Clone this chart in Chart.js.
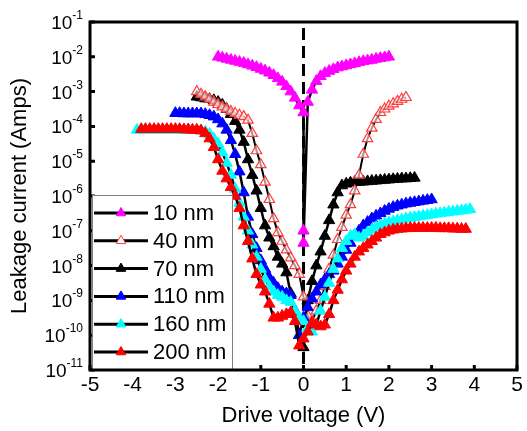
<!DOCTYPE html>
<html>
<head>
<meta charset="utf-8">
<script src="https://cdn.jsdelivr.net/npm/chart.js@4.4.1/dist/chart.umd.min.js"></script>
<style>
	html, body { margin: 0; padding: 0; background: #fff; }
</style>
</head>
<body>
<canvas id="chart" width="527" height="431"></canvas>
<script>
// sweep grid shared by the 40..200 nm curves (V)
const voltage = [
	-3.9, -3.8, -3.7, -3.6, -3.5, -3.4, -3.3, -3.2, -3.1, -3.0,
	-2.9, -2.8, -2.7, -2.6, -2.5, -2.4, -2.3, -2.2, -2.1, -2.0,
	-1.9, -1.8, -1.7, -1.6, -1.5, -1.4, -1.3, -1.2, -1.1, -1.0,
	-0.9, -0.8, -0.7, -0.6, -0.5, -0.4, -0.3, -0.2, -0.1, 0.0,
	0.1, 0.2, 0.3, 0.4, 0.5, 0.6, 0.7, 0.8, 0.9, 1.0,
	1.1, 1.2, 1.3, 1.4, 1.5, 1.6, 1.7, 1.8, 1.9, 2.0,
	2.1, 2.2, 2.3, 2.4, 2.5, 2.6, 2.7, 2.8, 2.9, 3.0,
	3.1, 3.2, 3.3, 3.4, 3.5, 3.6, 3.7, 3.8, 3.9
];

// leakage current, log10(A)
const leak40nm = [
	null, null, null, null, null, null, null, null, null, null,
	null, null, null, null, -3.00, -3.08, -3.15, -3.22, -3.30, -3.37,
	-3.44, -3.50, -3.57, -3.63, -3.68, -3.72, -3.82, -4.20, -4.70, -5.10,
	-5.60, -6.10, -6.65, -7.05, -7.30, -7.55, -7.78, -8.00, -8.25, -8.90,
	-9.45, -9.60, -9.30, -9.00, -8.60, -8.10, -7.70, -7.25, -6.90, -6.55,
	-6.25, -5.85, -5.40, -4.80, -4.35, -4.05, -3.80, -3.60, -3.50, -3.42,
	-3.35, -3.28, -3.22, -3.17, null, null, null, null, null, null,
	null, null, null, null, null, null, null, null, null
];
const leak70nm = [
	null, null, null, null, null, null, null, null, null, null,
	null, null, null, null, -3.15, -3.17, -3.20, -3.22, -3.25, -3.30,
	-3.38, -3.50, -3.65, -3.85, -4.10, -4.45, -4.95, -5.40, -5.85, -6.35,
	-6.85, -7.20, -7.45, -7.75, -7.95, -8.20, -8.80, -9.30, -10.00, -10.35,
	-9.00, -8.45, -8.00, -7.60, -7.15, -6.70, -6.25, -5.90, -5.70, -5.65,
	-5.62, -5.60, -5.60, -5.59, -5.58, -5.57, -5.56, -5.55, -5.54, -5.53,
	-5.52, -5.51, -5.50, -5.50, -5.49, -5.48, null, null, null, null,
	null, null, null, null, null, null, null, null, null
];
const leak110nm = [
	null, null, null, null, null, null, null, null, null, -3.62,
	-3.62, -3.63, -3.63, -3.63, -3.63, -3.63, -3.65, -3.68, -3.72, -3.80,
	-3.92, -4.10, -4.40, -4.80, -5.30, -5.90, -6.60, -7.10, -7.50, -7.85,
	-8.10, -8.35, -8.50, -8.65, -8.75, -8.80, -8.85, -9.30, -10.00, -9.50,
	-9.20, -8.95, -8.75, -8.55, -8.40, -8.25, -8.15, -7.95, -7.75, -7.55,
	-7.35, -7.15, -7.00, -6.85, -6.75, -6.65, -6.57, -6.50, -6.43, -6.37,
	-6.32, -6.28, -6.25, -6.22, -6.20, -6.18, -6.16, -6.14, -6.12, -6.10,
	null, null, null, null, null, null, null, null, null
];
const leak160nm = [
	-4.10, -4.10, -4.10, -4.10, -4.10, -4.10, -4.10, -4.10, -4.10, -4.10,
	-4.10, -4.10, -4.10, -4.10, -4.11, -4.12, -4.15, -4.22, -4.35, -4.50,
	-4.75, -5.05, -5.40, -5.80, -6.20, -6.60, -7.00, -7.40, -7.75, -8.10,
	-8.40, -8.60, -8.75, -8.85, -8.90, -9.00, -9.05, -9.30, -9.50, -9.60,
	-9.80, -9.90, -9.70, -9.30, -8.90, -8.50, -8.10, -7.80, -7.50, -7.30,
	-7.15, -7.10, -7.20, -7.15, -7.05, -6.97, -6.90, -6.85, -6.80, -6.76,
	-6.73, -6.70, -6.68, -6.65, -6.63, -6.61, -6.59, -6.57, -6.55, -6.53,
	-6.51, -6.50, -6.48, -6.46, -6.45, -6.43, -6.42, -6.40, -6.38
];
const leak200nm = [
	null, -4.08, -4.08, -4.08, -4.08, -4.08, -4.08, -4.08, -4.08, -4.08,
	-4.08, -4.09, -4.09, -4.10, -4.10, -4.12, -4.20, -4.35, -4.60, -4.95,
	-5.28, -5.50, -5.75, -6.00, -6.35, -6.85, -7.30, -7.80, -8.25, -8.55,
	-8.75, -9.10, -9.50, -9.50, -9.45, -9.40, -9.35, -9.60, -10.30, -10.10,
	-9.90, -9.65, -9.70, -9.75, -9.70, -9.40, -9.00, -8.70, -8.40, -8.15,
	-7.95, -7.75, -7.60, -7.50, -7.40, -7.30, -7.20, -7.10, -7.05, -7.00,
	-6.97, -6.95, -6.94, -6.93, -6.92, -6.92, -6.92, -6.92, -6.92, -6.92,
	-6.92, -6.93, -6.93, -6.93, -6.94, -6.94, -6.95, -6.95, null
];

// 10 nm has its own sweep, with the drop at 0 V
const voltage10nm = [
	-2.0, -1.9, -1.8, -1.7, -1.6, -1.5, -1.4, -1.3, -1.2, -1.1,
	-1.0, -0.9, -0.8, -0.7, -0.6, -0.5, -0.4, -0.3, -0.2, -0.1,
	0.0, 0.0, 0.0,
	0.1, 0.2, 0.3, 0.4, 0.5, 0.6, 0.7, 0.8, 0.9, 1.0,
	1.1, 1.2, 1.3, 1.4, 1.5, 1.6, 1.7, 1.8, 1.9, 2.0
];
const leak10nm = [
	-2.00, -2.03, -2.06, -2.09, -2.12, -2.15, -2.18, -2.22, -2.26, -2.30,
	-2.35, -2.40, -2.46, -2.53, -2.62, -2.72, -2.85, -3.00, -3.18, -3.40,
	-3.60, -7.00, -7.35,
	-3.30, -2.95, -2.70, -2.56, -2.47, -2.41, -2.36, -2.31, -2.28, -2.25,
	-2.22, -2.19, -2.16, -2.13, -2.11, -2.09, -2.06, -2.04, -2.02, -2.00
];

const seriesNames = ['10 nm', '40 nm', '70 nm', '110 nm', '160 nm', '200 nm'];
const markerColors = ['#ff00ff', '#ff3b3b', '#000000', '#0000ff', '#00ffff', '#ff0000'];
const yTickExp = [-11, -10, -9, -8, -7, -6, -5, -4, -3, -2, -1];
const xTicks = [-5, -4, -3, -2, -1, 0, 1, 2, 3, 4, 5];

const FONT = "'Liberation Sans', Arial, sans-serif";

function points(xs, logs) {
	let out = [];
	xs.forEach((v, i) => {
		if (logs[i] !== null) {
			out.push({x: v, y: Math.pow(10, logs[i])});
		}
	});
	return out;
}

function makeDataset(i, data) {
	let open = (i === 1);
	return {
		label: seriesNames[i],
		data: data,
		borderColor: '#000',
		borderWidth: open ? 2 : 2.5,
		pointStyle: 'triangle',
		pointRadius: open ? 6 : 6.5,
		pointBorderWidth: open ? 1.2 : 1,
		pointBorderColor: markerColors[i],
		pointBackgroundColor: open ? 'rgba(255,255,255,0.6)' : markerColors[i],
		fill: false,
		order: 5 - i,
	};
}

let datasets = [
	makeDataset(0, points(voltage10nm, leak10nm)),
	makeDataset(1, points(voltage, leak40nm)),
	makeDataset(2, points(voltage, leak70nm)),
	makeDataset(3, points(voltage, leak110nm)),
	makeDataset(4, points(voltage, leak160nm)),
	makeDataset(5, points(voltage, leak200nm)),
];
// keep 40 nm above 70 nm
datasets[1].order = 2.5;

function triangle(ctx, x, y, r) {
	ctx.beginPath();
	ctx.moveTo(x, y - r);
	ctx.lineTo(x + r * 0.866, y + r * 0.5);
	ctx.lineTo(x - r * 0.866, y + r * 0.5);
	ctx.closePath();
}

const framePlugin = {
	id: 'frame',
	beforeDatasetsDraw(chart) {
		const {ctx, chartArea: a, scales: {x}} = chart;
		const x0 = x.getPixelForValue(0);
		ctx.save();
		ctx.strokeStyle = '#000';
		ctx.lineWidth = 3;
		ctx.setLineDash([12, 6]);
		ctx.beginPath();
		ctx.moveTo(x0, a.top + 6);
		ctx.lineTo(x0, a.bottom);
		ctx.stroke();
		ctx.restore();
	},
	afterDatasetsDraw(chart) {
		const {ctx, chartArea: a, scales: {x, y}} = chart;
		ctx.save();
		
		//inward ticks
		ctx.strokeStyle = '#000';
		ctx.lineWidth = 3;
		ctx.beginPath();
		for (let e of yTickExp) {
			let py = y.getPixelForValue(Math.pow(10, e));
			ctx.moveTo(a.left, py);
			ctx.lineTo(a.left + 5, py);
		}
		for (let v of xTicks) {
			let px = x.getPixelForValue(v);
			ctx.moveTo(px, a.bottom);
			ctx.lineTo(px, a.bottom - 5);
		}
		ctx.stroke();
		
		//legend box
		const lx = a.left + 2, ly = a.top + 173, lw = 140, lh = a.bottom - ly;
		ctx.fillStyle = '#fff';
		ctx.fillRect(lx, ly, lw, lh);
		ctx.strokeStyle = '#808080';
		ctx.lineWidth = 1;
		ctx.strokeRect(lx + 0.5, ly + 0.5, lw, lh);
		
		ctx.font = '22px ' + FONT;
		ctx.textBaseline = 'middle';
		ctx.textAlign = 'left';
		chart.data.datasets.forEach((ds, i) => {
			let ry = ly + 18 + i * 27.8;
			ctx.strokeStyle = '#000';
			ctx.lineWidth = 3;
			ctx.beginPath();
			ctx.moveTo(lx + 2, ry);
			ctx.lineTo(lx + 56, ry);
			ctx.stroke();
			triangle(ctx, lx + 29, ry, 5.5);
			ctx.fillStyle = (i === 1) ? '#fff' : markerColors[i];
			ctx.fill();
			ctx.lineWidth = 1;
			ctx.strokeStyle = markerColors[i];
			ctx.stroke();
			ctx.fillStyle = '#000';
			ctx.fillText(ds.label, lx + 61, ry + 1);
		});
		
		//frame
		ctx.strokeStyle = '#000';
		ctx.lineWidth = 3;
		ctx.strokeRect(a.left, a.top, a.right - a.left, a.bottom - a.top);
		
		//y tick labels 10^n
		ctx.fillStyle = '#000';
		ctx.textAlign = 'left';
		ctx.textBaseline = 'alphabetic';
		for (let e of yTickExp) {
			let py = y.getPixelForValue(Math.pow(10, e));
			let sup = String(e);
			ctx.font = '12px ' + FONT;
			let wSup = ctx.measureText(sup).width;
			ctx.font = '19px ' + FONT;
			let wBase = ctx.measureText('10').width;
			let right = a.left - 7;
			ctx.fillText('10', right - wSup - wBase, py + 7);
			ctx.font = '12px ' + FONT;
			ctx.fillText(sup, right - wSup, py - 3);
		}
		ctx.restore();
	}
};

new Chart(document.getElementById('chart'), {
	type: 'line',
	data: {datasets: datasets},
	options: {
		responsive: false,
		animation: false,
		events: [],
		layout: {padding: {top: 22, right: 10, left: 0, bottom: 0}},
		plugins: {
			legend: {display: false},
			tooltip: {enabled: false},
		},
		scales: {
			x: {
				type: 'linear',
				min: -5,
				max: 5,
				grid: {display: false, drawTicks: false},
				border: {display: false},
				afterBuildTicks: (scale) => { scale.ticks = xTicks.map(v => ({value: v})); },
				afterFit: (scale) => { scale.height = 61; },
				ticks: {
					color: '#000',
					padding: 3,
					maxRotation: 0,
					font: {family: FONT, size: 21},
				},
				title: {
					display: true,
					text: 'Drive voltage (V)',
					color: '#000',
					font: {family: FONT, size: 22},
					padding: {top: 0, bottom: 2},
				},
			},
			y: {
				type: 'logarithmic',
				min: 1e-11,
				max: 1e-1,
				grid: {display: false, drawTicks: false},
				border: {display: false},
				afterBuildTicks: (scale) => { scale.ticks = yTickExp.map(e => ({value: Math.pow(10, e)})); },
				afterFit: (scale) => { scale.width = 90; },
				ticks: {display: false},
				title: {
					display: true,
					text: 'Leakage current (Amps)',
					color: '#000',
					font: {family: FONT, size: 22},
					padding: {top: 7, bottom: 0},
				},
			},
		},
	},
	plugins: [framePlugin],
});
</script>
</body>
</html>
